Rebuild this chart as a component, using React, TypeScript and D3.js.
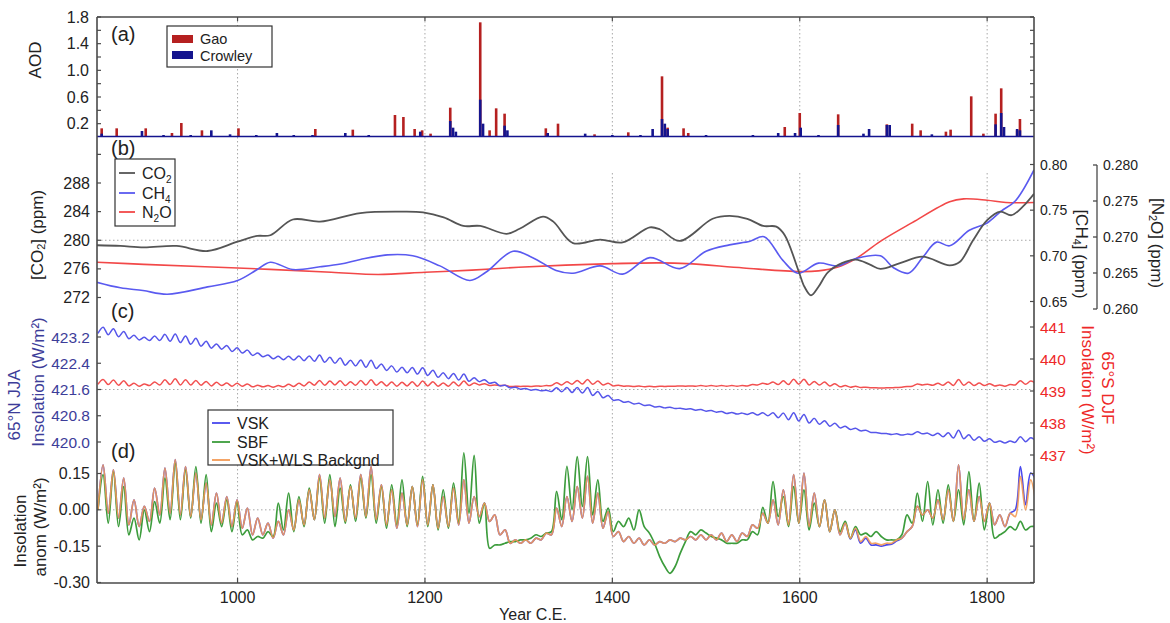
import React from "react";
import * as d3 from "d3";

const FONT = "'Liberation Sans', Arial, Helvetica, sans-serif";

// ---------- (a) volcanic aerosol optical depth ----------
const GAO_YEARS = [855, 871, 902, 930, 940, 962, 1001, 1083, 1123, 1168, 1177, 1189, 1197, 1206, 1227, 1259, 1269, 1276, 1285, 1329, 1342, 1381, 1417, 1453, 1459, 1476, 1481, 1584, 1600, 1641, 1693, 1720, 1729, 1756, 1761, 1783, 1796, 1809, 1815, 1832, 1835];
const GAO_AOD = [0.13, 0.13, 0.13, 0.06, 0.21, 0.10, 0.13, 0.12, 0.11, 0.33, 0.30, 0.12, 0.10, 0.05, 0.44, 1.72, 0.10, 0.43, 0.35, 0.13, 0.20, 0.04, 0.07, 0.91, 0.14, 0.13, 0.06, 0.15, 0.36, 0.34, 0.19, 0.20, 0.10, 0.08, 0.11, 0.61, 0.05, 0.35, 0.73, 0.10, 0.27];
const CROWLEY_YEARS = [855, 898, 921, 950, 972, 992, 1020, 1042, 1060, 1080, 1115, 1140, 1195, 1227, 1230, 1233, 1259, 1262, 1285, 1288, 1331, 1371, 1400, 1430, 1443, 1453, 1456, 1459, 1500, 1550, 1577, 1595, 1601, 1620, 1641, 1668, 1674, 1693, 1696, 1741, 1809, 1815, 1818, 1832, 1835];
const CROWLEY_AOD = [0.05, 0.09, 0.03, 0.03, 0.10, 0.04, 0.03, 0.06, 0.03, 0.03, 0.06, 0.03, 0.08, 0.24, 0.14, 0.08, 0.56, 0.20, 0.17, 0.10, 0.06, 0.05, 0.03, 0.03, 0.12, 0.27, 0.20, 0.12, 0.03, 0.03, 0.06, 0.06, 0.14, 0.03, 0.18, 0.05, 0.12, 0.18, 0.18, 0.04, 0.19, 0.36, 0.15, 0.12, 0.10];

// ---------- (b) greenhouse gases ----------
const CO2_YEARS = [850, 875, 900, 935, 968, 1000, 1021, 1035, 1059, 1088, 1131, 1173, 1198, 1220, 1241, 1259, 1287, 1301, 1326, 1337, 1358, 1387, 1411, 1440, 1451, 1472, 1507, 1525, 1544, 1561, 1575, 1584, 1599, 1605, 1612, 1620, 1630, 1645, 1660, 1675, 1686, 1707, 1731, 1760, 1771, 1785, 1800, 1814, 1826, 1838, 1850];
const CO2_PPM = [279.3, 279.2, 279.0, 279.2, 278.5, 279.8, 280.6, 280.7, 282.9, 282.6, 283.8, 284.0, 283.9, 283.2, 282.0, 282.0, 280.9, 281.6, 283.3, 282.6, 279.6, 280.1, 279.7, 281.8, 281.5, 279.9, 283.0, 283.4, 283.0, 282.0, 281.9, 280.7, 275.6, 273.5, 272.3, 273.5, 275.5, 276.8, 277.3, 276.6, 276.0, 276.8, 277.7, 276.5, 277.0, 280.0, 282.8, 284.0, 283.5, 284.7, 286.5];
const CH4_YEARS = [850, 875, 899, 925, 968, 1000, 1021, 1035, 1059, 1088, 1110, 1131, 1160, 1187, 1216, 1248, 1265, 1294, 1315, 1340, 1358, 1387, 1411, 1440, 1472, 1500, 1525, 1547, 1562, 1582, 1598, 1620, 1640, 1660, 1686, 1700, 1716, 1731, 1746, 1760, 1781, 1800, 1815, 1830, 1850];
const CH4_PPM = [0.671, 0.665, 0.662, 0.658, 0.666, 0.673, 0.685, 0.693, 0.685, 0.688, 0.691, 0.696, 0.701, 0.700, 0.689, 0.673, 0.682, 0.705, 0.698, 0.684, 0.681, 0.689, 0.680, 0.698, 0.686, 0.705, 0.712, 0.716, 0.721, 0.695, 0.681, 0.692, 0.689, 0.697, 0.700, 0.687, 0.681, 0.698, 0.715, 0.711, 0.728, 0.736, 0.749, 0.760, 0.794];
const N2O_YEARS = [850, 900, 1000, 1100, 1150, 1200, 1250, 1300, 1350, 1400, 1450, 1480, 1540, 1600, 1620, 1640, 1660, 1686, 1720, 1760, 1775, 1800, 1820, 1850];
const N2O_PPM = [0.2665, 0.2662, 0.2657, 0.2651, 0.2648, 0.2651, 0.2654, 0.2658, 0.2661, 0.2663, 0.2664, 0.2663, 0.2657, 0.2652, 0.2653, 0.2658, 0.2670, 0.2694, 0.2720, 0.2749, 0.2753, 0.2751, 0.2748, 0.2748];

// ---------- (c), (d) sampled at every half of the ~11-yr solar cycle ----------
const HALF_CYCLE_YEARS = d3.range(851, 1853, 5.5);

const JJA_65N = [
  423.31, 423.50, 423.27, 423.45, 423.21, 423.37, 423.15, 423.25, 423.11, 423.19,
  423.09, 423.23, 423.09, 423.28, 423.07, 423.29, 423.03, 423.23, 422.98, 423.16,
  422.92, 423.07, 422.86, 422.99, 422.83, 422.94, 422.76, 422.87, 422.71, 422.80,
  422.64, 422.71, 422.60, 422.65, 422.54, 422.61, 422.51, 422.61, 422.50, 422.62,
  422.48, 422.62, 422.46, 422.65, 422.43, 422.58, 422.40, 422.56, 422.34, 422.49,
  422.32, 422.50, 422.28, 422.49, 422.24, 422.38, 422.18, 422.32, 422.13, 422.28,
  422.11, 422.27, 422.07, 422.26, 422.03, 422.19, 421.97, 422.11, 421.93, 422.09,
  421.89, 422.07, 421.85, 421.96, 421.84, 421.90, 421.79, 421.82, 421.71, 421.73,
  421.65, 421.67, 421.61, 421.63, 421.58, 421.60, 421.56, 421.58, 421.54, 421.65,
  421.53, 421.66, 421.51, 421.66, 421.49, 421.66, 421.42, 421.54, 421.35, 421.42,
  421.27, 421.29, 421.21, 421.23, 421.16, 421.18, 421.11, 421.13, 421.07, 421.08,
  421.04, 421.06, 421.02, 421.03, 421.00, 421.01, 420.97, 420.99, 420.94, 420.96,
  420.91, 420.93, 420.87, 420.90, 420.85, 420.88, 420.84, 420.89, 420.82, 420.89,
  420.80, 420.89, 420.74, 420.88, 420.68, 420.89, 420.64, 420.84, 420.58, 420.72,
  420.54, 420.65, 420.48, 420.57, 420.43, 420.48, 420.38, 420.42, 420.34, 420.36,
  420.29, 420.29, 420.26, 420.26, 420.23, 420.25, 420.21, 420.24, 420.23, 420.31,
  420.25, 420.27, 420.20, 420.27, 420.16, 420.28, 420.12, 420.36, 420.10, 420.22,
  420.05, 420.16, 420.02, 420.10, 419.99, 420.03, 419.97, 420.03, 419.99, 420.16,
  420.01, 420.13, 420.03,
];

const DJF_65S = [
  439.21, 439.36, 439.20, 439.34, 439.18, 439.32, 439.16, 439.24, 439.15, 439.22,
  439.17, 439.28, 439.19, 439.35, 439.20, 439.38, 439.19, 439.35, 439.19, 439.33,
  439.18, 439.30, 439.16, 439.27, 439.17, 439.25, 439.15, 439.24, 439.15, 439.22,
  439.13, 439.18, 439.13, 439.17, 439.12, 439.17, 439.13, 439.21, 439.14, 439.24,
  439.16, 439.28, 439.18, 439.33, 439.18, 439.31, 439.19, 439.32, 439.17, 439.29,
  439.18, 439.33, 439.19, 439.35, 439.18, 439.29, 439.16, 439.28, 439.15, 439.27,
  439.16, 439.29, 439.15, 439.31, 439.16, 439.29, 439.15, 439.25, 439.15, 439.28,
  439.16, 439.31, 439.17, 439.25, 439.19, 439.23, 439.17, 439.19, 439.17, 439.18,
  439.14, 439.15, 439.14, 439.15, 439.14, 439.16, 439.15, 439.17, 439.17, 439.26,
  439.19, 439.29, 439.21, 439.33, 439.22, 439.36, 439.21, 439.31, 439.19, 439.24,
  439.16, 439.18, 439.15, 439.16, 439.14, 439.16, 439.13, 439.15, 439.13, 439.15,
  439.14, 439.15, 439.15, 439.16, 439.15, 439.16, 439.15, 439.17, 439.15, 439.17,
  439.15, 439.17, 439.15, 439.17, 439.15, 439.17, 439.16, 439.20, 439.19, 439.24,
  439.21, 439.28, 439.20, 439.32, 439.20, 439.37, 439.21, 439.37, 439.19, 439.30,
  439.19, 439.28, 439.16, 439.23, 439.13, 439.17, 439.12, 439.15, 439.11, 439.12,
  439.10, 439.10, 439.09, 439.10, 439.10, 439.11, 439.12, 439.14, 439.15, 439.22,
  439.19, 439.21, 439.18, 439.24, 439.18, 439.28, 439.17, 439.36, 439.18, 439.28,
  439.17, 439.25, 439.17, 439.23, 439.16, 439.19, 439.15, 439.20, 439.19, 439.32,
  439.21, 439.31, 439.23,
];

const VSK_ANOM = [
  0.000, 0.186, -0.014, 0.165, -0.034, 0.131, -0.062, 0.041, -0.069, 0.014,
  -0.048, 0.090, -0.021, 0.172, -0.014, 0.207, -0.021, 0.179, -0.028, 0.152,
  -0.041, 0.110, -0.062, 0.069, -0.055, 0.055, -0.069, 0.041, -0.076, 0.007,
  -0.103, -0.034, -0.103, -0.055, -0.117, -0.048, -0.103, 0.000, -0.083, 0.041,
  -0.062, 0.083, -0.041, 0.145, -0.034, 0.124, -0.028, 0.131, -0.048, 0.096,
  -0.034, 0.145, -0.028, 0.179, -0.041, 0.103, -0.062, 0.083, -0.076, 0.069,
  -0.062, 0.096, -0.069, 0.124, -0.062, 0.103, -0.076, 0.055, -0.069, 0.090,
  -0.062, 0.124, -0.055, 0.055, -0.028, 0.028, -0.048, -0.021, -0.103, -0.083,
  -0.138, -0.124, -0.138, -0.124, -0.138, -0.117, -0.124, -0.096, -0.103, 0.007,
  -0.069, 0.055, -0.048, 0.096, -0.034, 0.138, -0.055, 0.069, -0.076, -0.007,
  -0.110, -0.090, -0.131, -0.110, -0.138, -0.117, -0.145, -0.124, -0.145, -0.131,
  -0.138, -0.124, -0.131, -0.117, -0.124, -0.110, -0.124, -0.103, -0.124, -0.103,
  -0.124, -0.096, -0.131, -0.103, -0.131, -0.096, -0.110, -0.062, -0.076, -0.014,
  -0.055, 0.041, -0.062, 0.083, -0.062, 0.145, -0.055, 0.152, -0.069, 0.069,
  -0.069, 0.041, -0.090, 0.000, -0.103, -0.055, -0.120, -0.083, -0.138, -0.117,
  -0.145, -0.145, -0.150, -0.145, -0.142, -0.128, -0.117, -0.090, -0.069, 0.014,
  -0.021, 0.000, -0.034, 0.041, -0.041, 0.083, -0.048, 0.186, -0.041, 0.083,
  -0.048, 0.055, -0.048, 0.028, -0.062, -0.021, -0.069, -0.014, 0.000, 0.179,
  0.021, 0.152, 0.124,
];

const SBF_ANOM = [
  0.000, 0.145, -0.055, 0.158, -0.069, 0.096, -0.103, -0.034, -0.124, 0.000,
  -0.090, 0.034, -0.055, 0.131, -0.041, 0.193, -0.041, 0.165, -0.034, 0.179,
  -0.055, 0.145, -0.090, 0.028, -0.069, 0.041, -0.090, 0.034, -0.103, -0.083,
  -0.124, -0.110, -0.117, -0.090, -0.110, 0.028, -0.083, 0.069, -0.090, 0.055,
  -0.069, 0.090, -0.041, 0.131, -0.055, 0.145, -0.069, 0.090, -0.055, 0.103,
  -0.048, 0.131, -0.034, 0.145, -0.055, 0.096, -0.076, 0.103, -0.062, 0.124,
  -0.069, 0.096, -0.062, 0.138, -0.069, 0.103, -0.083, 0.083, -0.076, 0.110,
  -0.055, 0.235, -0.014, 0.225, -0.055, 0.028, -0.159, -0.145, -0.145, -0.138,
  -0.131, -0.131, -0.124, -0.124, -0.117, -0.103, -0.110, -0.096, -0.090, 0.076,
  -0.041, 0.180, 0.000, 0.220, 0.014, 0.220, -0.021, 0.124, -0.048, 0.007,
  -0.090, -0.048, -0.069, -0.034, -0.083, 0.000, -0.069, -0.096, -0.138, -0.193,
  -0.234, -0.262, -0.234, -0.179, -0.131, -0.090, -0.103, -0.083, -0.096, -0.110,
  -0.117, -0.124, -0.138, -0.138, -0.138, -0.124, -0.124, -0.090, -0.103, 0.010,
  -0.055, 0.117, -0.028, 0.055, -0.069, 0.096, -0.055, 0.083, -0.083, 0.028,
  -0.069, 0.041, -0.090, 0.000, -0.090, -0.048, -0.117, -0.069, -0.103, -0.096,
  -0.110, -0.090, -0.110, -0.124, -0.124, -0.124, -0.103, -0.021, -0.055, 0.069,
  -0.048, 0.117, -0.062, 0.083, -0.055, 0.103, -0.048, 0.083, -0.062, 0.158,
  -0.048, 0.110, -0.083, 0.028, -0.117, -0.103, -0.090, -0.069, -0.083, -0.048,
  -0.083, -0.069, -0.069,
];

const WLS_ANOM = [
  0.000, 0.186, -0.014, 0.165, -0.034, 0.131, -0.062, 0.041, -0.069, 0.014,
  -0.048, 0.090, -0.021, 0.172, -0.014, 0.207, -0.021, 0.179, -0.028, 0.152,
  -0.041, 0.110, -0.062, 0.069, -0.055, 0.055, -0.069, 0.041, -0.076, 0.007,
  -0.103, -0.034, -0.103, -0.055, -0.117, -0.048, -0.103, 0.000, -0.083, 0.041,
  -0.062, 0.083, -0.041, 0.145, -0.034, 0.124, -0.028, 0.131, -0.048, 0.096,
  -0.034, 0.145, -0.028, 0.179, -0.041, 0.103, -0.062, 0.083, -0.076, 0.069,
  -0.062, 0.096, -0.069, 0.124, -0.062, 0.103, -0.076, 0.055, -0.069, 0.090,
  -0.062, 0.124, -0.055, 0.055, -0.028, 0.028, -0.048, -0.021, -0.103, -0.083,
  -0.138, -0.124, -0.138, -0.124, -0.138, -0.117, -0.124, -0.096, -0.103, 0.007,
  -0.069, 0.055, -0.048, 0.096, -0.034, 0.138, -0.055, 0.069, -0.076, -0.007,
  -0.110, -0.090, -0.131, -0.110, -0.138, -0.117, -0.145, -0.124, -0.145, -0.131,
  -0.138, -0.124, -0.131, -0.117, -0.124, -0.110, -0.124, -0.103, -0.124, -0.103,
  -0.124, -0.096, -0.131, -0.103, -0.131, -0.096, -0.110, -0.062, -0.076, -0.014,
  -0.055, 0.041, -0.062, 0.083, -0.062, 0.145, -0.055, 0.152, -0.069, 0.069,
  -0.069, 0.041, -0.090, 0.000, -0.103, -0.055, -0.117, -0.076, -0.131, -0.110,
  -0.138, -0.138, -0.145, -0.138, -0.138, -0.124, -0.117, -0.090, -0.069, 0.014,
  -0.021, 0.000, -0.034, 0.041, -0.041, 0.083, -0.048, 0.186, -0.041, 0.083,
  -0.048, 0.055, -0.048, 0.028, -0.062, -0.021, -0.069, -0.014, -0.028, 0.138,
  0.000, 0.124, 0.028,
];

// ---------- ticks ----------
const YEAR_TICKS = [1000, 1200, 1400, 1600, 1800];
const AOD_TICKS = [0.2, 0.6, 1.0, 1.4, 1.8];
const AOD_MINOR = [0.2, 0.4, 0.6, 0.8, 1.0, 1.2, 1.4, 1.6, 1.8];
const CO2_TICKS = [272, 276, 280, 284, 288];
const CO2_MINOR = [272, 276, 280, 284, 288, 292];
const CH4_TICKS = [0.65, 0.7, 0.75, 0.8];
const N2O_TICKS = [0.26, 0.265, 0.27, 0.275, 0.28];
const JJA_TICKS = [420.0, 420.8, 421.6, 422.4, 423.2];
const DJF_TICKS = [437, 438, 439, 440, 441];
const ANOM_TICKS = [-0.3, -0.15, 0, 0.15];

const C = {
  frame: "#4a4a4a",
  grid: "#a8a8a8",
  text: "#222",
  gao: "#b52020",
  crowley: "#14148e",
  co2: "#555555",
  ch4: "#5a5af0",
  n2o: "#f24848",
  jjaText: "#3d3d99",
  djfText: "#ee2828",
  jja: "#5656ea",
  djf: "#f25050",
  vsk: "#4848ee",
  sbf: "#3c9c3c",
  wls: "#f39a55",
};

const zip = (xs: number[], ys: number[]) => xs.map((v, i) => [v, ys[i]] as [number, number]);

function VText(props: { x: number; y: number; rot: number; size?: number; fill?: string; children: React.ReactNode }) {
  const { x, y, rot, size = 17, fill = C.text, children } = props;
  return (
    <text transform={`translate(${x},${y}) rotate(${rot})`} textAnchor="middle" dominantBaseline="central" fontSize={size} fill={fill}>
      {children}
    </text>
  );
}

export default function App() {
  const X0 = 97;
  const X1 = 1034;
  const x = d3.scaleLinear().domain([850, 1850]).range([X0, X1]);
  const yAod = d3.scaleLinear().domain([0, 1.8]).range([137, 17]);
  const yCo2 = d3.scaleLinear().domain([272, 288]).range([297.5, 183]);
  const yCh4 = d3.scaleLinear().domain([0.65, 0.8]).range([301.5, 164.5]);
  const yN2o = d3.scaleLinear().domain([0.26, 0.28]).range([309, 165]);
  const yJja = d3.scaleLinear().domain([420.0, 423.2]).range([442, 337]);
  const yDjf = d3.scaleLinear().domain([437, 441]).range([455, 327]);
  const yAnom = d3.scaleLinear().domain([-0.3, 0.15]).range([582.5, 473.5]);

  const path = (xs: number[], ys: number[], sy: d3.ScaleLinear<number, number>) =>
    d3
      .line<[number, number]>()
      .x((d) => x(d[0]))
      .y((d) => sy(d[1]))
      .curve(d3.curveCatmullRom.alpha(0.5))(zip(xs, ys)) || "";

  const yTop = 17;
  const yBot = 583;
  const barW = 2.6;

  return (
    <svg
      width={1170}
      height={623}
      viewBox="0 0 1170 623"
      style={{ position: "absolute", left: 0, top: 0, background: "#fff" }}
      fontFamily={FONT}
    >
      <defs>
        <clipPath id="plotClip">
          <rect x={X0} y={0} width={X1 - X0} height={623} />
        </clipPath>
      </defs>

      {/* grid */}
      <g stroke={C.grid} strokeWidth={1} strokeDasharray="1.5,2.5" fill="none">
        {YEAR_TICKS.map((t) =>
          t <= 1200 ? (
            <line key={t} x1={x(t)} x2={x(t)} y1={yTop} y2={yBot} />
          ) : (
            <g key={t}>
              <line x1={x(t)} x2={x(t)} y1={yTop} y2={137} />
              <line x1={x(t)} x2={x(t)} y1={173} y2={yBot} />
            </g>
          )
        )}
        <line x1={X0} x2={X1} y1={yCo2(280)} y2={yCo2(280)} />
        <line x1={X0} x2={X1} y1={yJja(421.6)} y2={yJja(421.6)} />
        <line x1={X0} x2={X1} y1={yAnom(0)} y2={yAnom(0)} />
      </g>

      <g clipPath="url(#plotClip)">
        {/* (a) bars */}
        {GAO_YEARS.map((yr, i) => (
          <rect key={`g${i}`} x={x(yr) - barW / 2} width={barW} y={yAod(GAO_AOD[i])} height={yAod(0) - yAod(GAO_AOD[i])} fill={C.gao} />
        ))}
        {CROWLEY_YEARS.map((yr, i) => (
          <rect key={`c${i}`} x={x(yr) - barW / 2} width={barW} y={yAod(CROWLEY_AOD[i])} height={yAod(0) - yAod(CROWLEY_AOD[i])} fill={C.crowley} />
        ))}
        <line x1={X0} x2={X1} y1={yAod(0) - 0.5} y2={yAod(0) - 0.5} stroke={C.crowley} strokeWidth={1.6} />

        {/* (b) greenhouse gases */}
        <path d={path(N2O_YEARS, N2O_PPM, yN2o)} fill="none" stroke={C.n2o} strokeWidth={1.6} />
        <path d={path(CH4_YEARS, CH4_PPM, yCh4)} fill="none" stroke={C.ch4} strokeWidth={1.6} />
        <path d={path(CO2_YEARS, CO2_PPM, yCo2)} fill="none" stroke={C.co2} strokeWidth={1.8} />

        {/* (c) insolation */}
        <path d={path(HALF_CYCLE_YEARS, DJF_65S, yDjf)} fill="none" stroke={C.djf} strokeWidth={1.5} />
        <path d={path(HALF_CYCLE_YEARS, JJA_65N, yJja)} fill="none" stroke={C.jja} strokeWidth={1.5} />

        {/* (d) insolation anomalies */}
        <path d={path(HALF_CYCLE_YEARS, VSK_ANOM, yAnom)} fill="none" stroke={C.vsk} strokeWidth={1.7} />
        <path d={path(HALF_CYCLE_YEARS, SBF_ANOM, yAnom)} fill="none" stroke={C.sbf} strokeWidth={1.7} />
        <path d={path(HALF_CYCLE_YEARS, WLS_ANOM, yAnom)} fill="none" stroke={C.wls} strokeWidth={1.7} strokeOpacity={0.9} />
      </g>

      {/* frame */}
      <g stroke={C.frame} strokeWidth={1.6} fill="none">
        <line x1={X0} x2={X1} y1={yTop} y2={yTop} />
        <line x1={X0} x2={X1} y1={yBot} y2={yBot} />
        <line x1={X0} x2={X0} y1={yTop} y2={yBot} />
        <line x1={X1} x2={X1} y1={yTop} y2={yBot} />
      </g>

      {/* tick marks */}
      <g stroke={C.frame} strokeWidth={1.2}>
        {YEAR_TICKS.map((t) => (
          <g key={t}>
            <line x1={x(t)} x2={x(t)} y1={yBot} y2={yBot - 5} />
            <line x1={x(t)} x2={x(t)} y1={yTop} y2={yTop + 4} />
          </g>
        ))}
        {AOD_MINOR.map((t) => (
          <g key={t}>
            <line x1={X0} x2={X0 + 4} y1={yAod(t)} y2={yAod(t)} />
            <line x1={X1} x2={X1 - 4} y1={yAod(t)} y2={yAod(t)} />
          </g>
        ))}
        {CO2_MINOR.map((t) => (
          <line key={t} x1={X0} x2={X0 + 4} y1={yCo2(t)} y2={yCo2(t)} />
        ))}
        {CH4_TICKS.map((t) => (
          <line key={t} x1={X1} x2={X1 - 4} y1={yCh4(t)} y2={yCh4(t)} />
        ))}
        {JJA_TICKS.map((t) => (
          <line key={t} x1={X0} x2={X0 + 4} y1={yJja(t)} y2={yJja(t)} />
        ))}
        {DJF_TICKS.map((t) => (
          <line key={t} x1={X1} x2={X1 - 4} y1={yDjf(t)} y2={yDjf(t)} />
        ))}
        {ANOM_TICKS.map((t) => (
          <g key={t}>
            <line x1={X0} x2={X0 + 4} y1={yAnom(t)} y2={yAnom(t)} />
            <line x1={X1} x2={X1 - 4} y1={yAnom(t)} y2={yAnom(t)} />
          </g>
        ))}
      </g>

      {/* N2O bracket axis */}
      <g stroke={C.frame} strokeWidth={1.3} fill="none">
        <line x1={1097} x2={1097} y1={yN2o(0.28)} y2={yN2o(0.26)} />
        {N2O_TICKS.map((t) => (
          <line key={t} x1={1097} x2={1093} y1={yN2o(t)} y2={yN2o(t)} />
        ))}
      </g>

      {/* tick labels */}
      <g fontSize={16} fill={C.text} textAnchor="end" dominantBaseline="central">
        {AOD_TICKS.map((t) => (
          <text key={t} x={89} y={yAod(t)}>{t.toFixed(1)}</text>
        ))}
        {CO2_TICKS.map((t) => (
          <text key={t} x={90} y={yCo2(t)}>{t}</text>
        ))}
        {ANOM_TICKS.map((t) => (
          <text key={t} x={90} y={yAnom(t)}>{t.toFixed(2)}</text>
        ))}
      </g>
      <g fontSize={15.5} fill={C.jjaText} textAnchor="end" dominantBaseline="central">
        {JJA_TICKS.map((t) => (
          <text key={t} x={90} y={yJja(t)}>{t.toFixed(1)}</text>
        ))}
      </g>
      <g fontSize={14} fill={C.text} dominantBaseline="central">
        {CH4_TICKS.map((t) => (
          <text key={t} x={1040} y={yCh4(t)}>{t.toFixed(2)}</text>
        ))}
        {N2O_TICKS.map((t) => (
          <text key={t} x={1103} y={yN2o(t)}>{t.toFixed(3)}</text>
        ))}
      </g>
      <g fontSize={15.5} fill={C.djfText} dominantBaseline="central">
        {DJF_TICKS.map((t) => (
          <text key={t} x={1040} y={yDjf(t)}>{t}</text>
        ))}
      </g>
      <g fontSize={16} fill={C.text} textAnchor="middle">
        {YEAR_TICKS.map((t) => (
          <text key={t} x={x(t)} y={603}>{t}</text>
        ))}
        <text x={533} y={620}>Year C.E.</text>
      </g>

      {/* axis titles */}
      <VText x={35} y={60} rot={-90}>AOD</VText>
      <VText x={37} y={235} rot={-90}>
        [CO<tspan dy={4} fontSize={11}>2</tspan>
        <tspan dy={-4}>] (ppm)</tspan>
      </VText>
      <VText x={14} y={405} rot={-90} fill={C.jjaText}>65°N JJA</VText>
      <VText x={38} y={382} rot={-90} fill={C.jjaText}>Insolation (W/m²)</VText>
      <VText x={20} y={531} rot={-90}>Insolation</VText>
      <VText x={40} y={527} rot={-90}>anom (W/m²)</VText>
      <VText x={1081} y={254} rot={90}>
        [CH<tspan dy={4} fontSize={11}>4</tspan>
        <tspan dy={-4}>] (ppm)</tspan>
      </VText>
      <VText x={1157} y={243} rot={90}>
        [N<tspan dy={4} fontSize={11}>2</tspan>
        <tspan dy={-4}>O] (ppm)</tspan>
      </VText>
      <VText x={1107} y={388} rot={90} fill={C.djfText}>65°S DJF</VText>
      <VText x={1087} y={390} rot={90} fill={C.djfText}>Insolation (W/m²)</VText>

      {/* panel letters */}
      <g fontSize={20} fill={C.text}>
        <text x={111} y={41}>(a)</text>
        <text x={111} y={155}>(b)</text>
        <text x={111} y={318}>(c)</text>
        <text x={111} y={458}>(d)</text>
      </g>

      {/* legend (a) */}
      <g fontSize={14.5} fill={C.text}>
        <rect x={167} y={26} width={105} height={41} fill="#fff" stroke="#333" strokeWidth={1.2} />
        <rect x={172} y={35} width={21} height={8} fill={C.gao} />
        <rect x={172} y={51} width={21} height={8} fill={C.crowley} />
        <text x={200} y={43.5}>Gao</text>
        <text x={200} y={60.5}>Crowley</text>
      </g>

      {/* legend (b) */}
      <g fontSize={16} fill={C.text}>
        <rect x={115} y={159} width={60} height={67} fill="#fff" stroke="#333" strokeWidth={1.2} />
        <line x1={119} x2={135} y1={173} y2={173} stroke={C.co2} strokeWidth={1.8} />
        <line x1={119} x2={135} y1={193} y2={193} stroke={C.ch4} strokeWidth={1.8} />
        <line x1={119} x2={135} y1={212} y2={212} stroke={C.n2o} strokeWidth={1.8} />
        <text x={142} y={179}>CO<tspan dy={4} fontSize={10}>2</tspan></text>
        <text x={142} y={199}>CH<tspan dy={4} fontSize={10}>4</tspan></text>
        <text x={142} y={218}>N<tspan dy={4} fontSize={10}>2</tspan><tspan dy={-4}>O</tspan></text>
      </g>

      {/* legend (d) */}
      <g fontSize={16} fill={C.text}>
        <rect x={208} y={410} width={185} height={55} fill="#fff" stroke="#333" strokeWidth={1.2} />
        <line x1={212} x2={230} y1={423} y2={423} stroke={C.vsk} strokeWidth={1.8} />
        <line x1={212} x2={230} y1={442} y2={442} stroke={C.sbf} strokeWidth={1.8} />
        <line x1={212} x2={230} y1={460} y2={460} stroke={C.wls} strokeWidth={1.8} />
        <text x={237} y={429}>VSK</text>
        <text x={237} y={448}>SBF</text>
        <text x={237} y={466}>VSK+WLS Backgnd</text>
      </g>
    </svg>
  );
}
